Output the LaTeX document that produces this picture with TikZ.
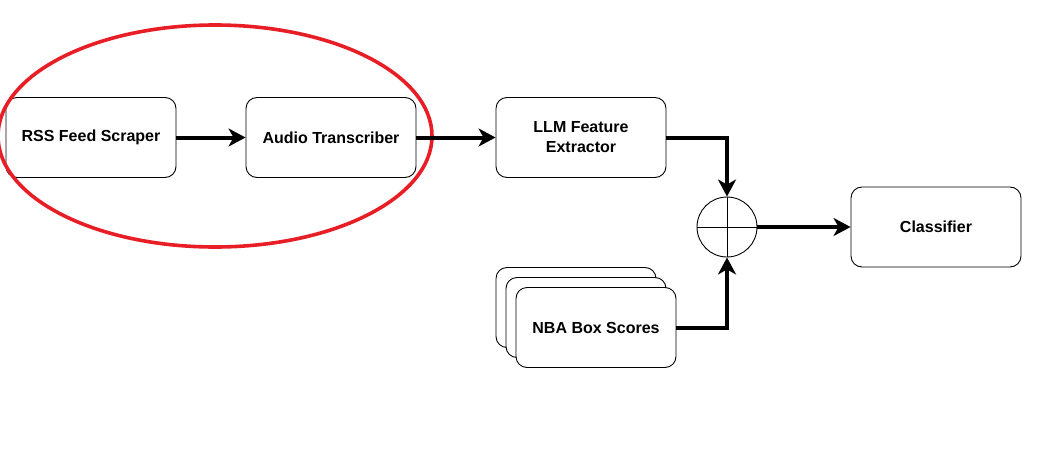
\documentclass[tikz,border=0pt]{standalone}
\usepackage{fontspec}
\setmainfont{Liberation Sans}
\usetikzlibrary{arrows.meta,calc}
\definecolor{ringred}{RGB}{232,30,38}
\tikzset{
  box/.style={draw=black, line width=0.9pt, rounded corners=11pt, fill=white,
    minimum width=170pt, minimum height=80pt, align=center,
    font=\fontsize{16}{20}\selectfont\bfseries, inner sep=0pt},
  stackbox/.style={box, minimum width=160pt},
  flow/.style={line width=4pt, -{Stealth[length=17pt,width=18pt,inset=5pt]}},
  sumcirc/.style={draw=black, line width=0.9pt, circle, minimum size=60pt, inner sep=0pt}
}
\begin{document}
\begin{tikzpicture}[x=1pt,y=-1pt]
\useasboundingbox (0,0) rectangle (1038,471);
\node[box] (rss) at (91,137.5) {RSS Feed Scraper};
\node[box] (audio) at (331,137.5) {Audio Transcriber};
\node[box] (llm) at (581,137.5) {LLM Feature\\Extractor};
\node[box] (cls) at (936,227) {Classifier};
\node[sumcirc] (sum) at (727,227) {};
\draw[line width=0.9pt] (sum.north) -- (sum.south) (sum.west) -- (sum.east);
\node[stackbox] (nbaback) at (576,307.5) {};
\node[stackbox] (nbamid) at (586,317.5) {};
\node[stackbox] (nba) at (596,327.5) {NBA Box Scores};
\draw[ringred, line width=3.6pt] (215,136) ellipse [x radius=217pt, y radius=111pt];
\draw[flow] (rss) -- (audio);
\draw[flow] (audio) -- (llm);
\draw[flow] (llm.east) -| (sum.north);
\draw[flow] (nba.east) -| (sum.south);
\draw[flow] (sum.east) -- (cls.west);
\end{tikzpicture}
\end{document}
